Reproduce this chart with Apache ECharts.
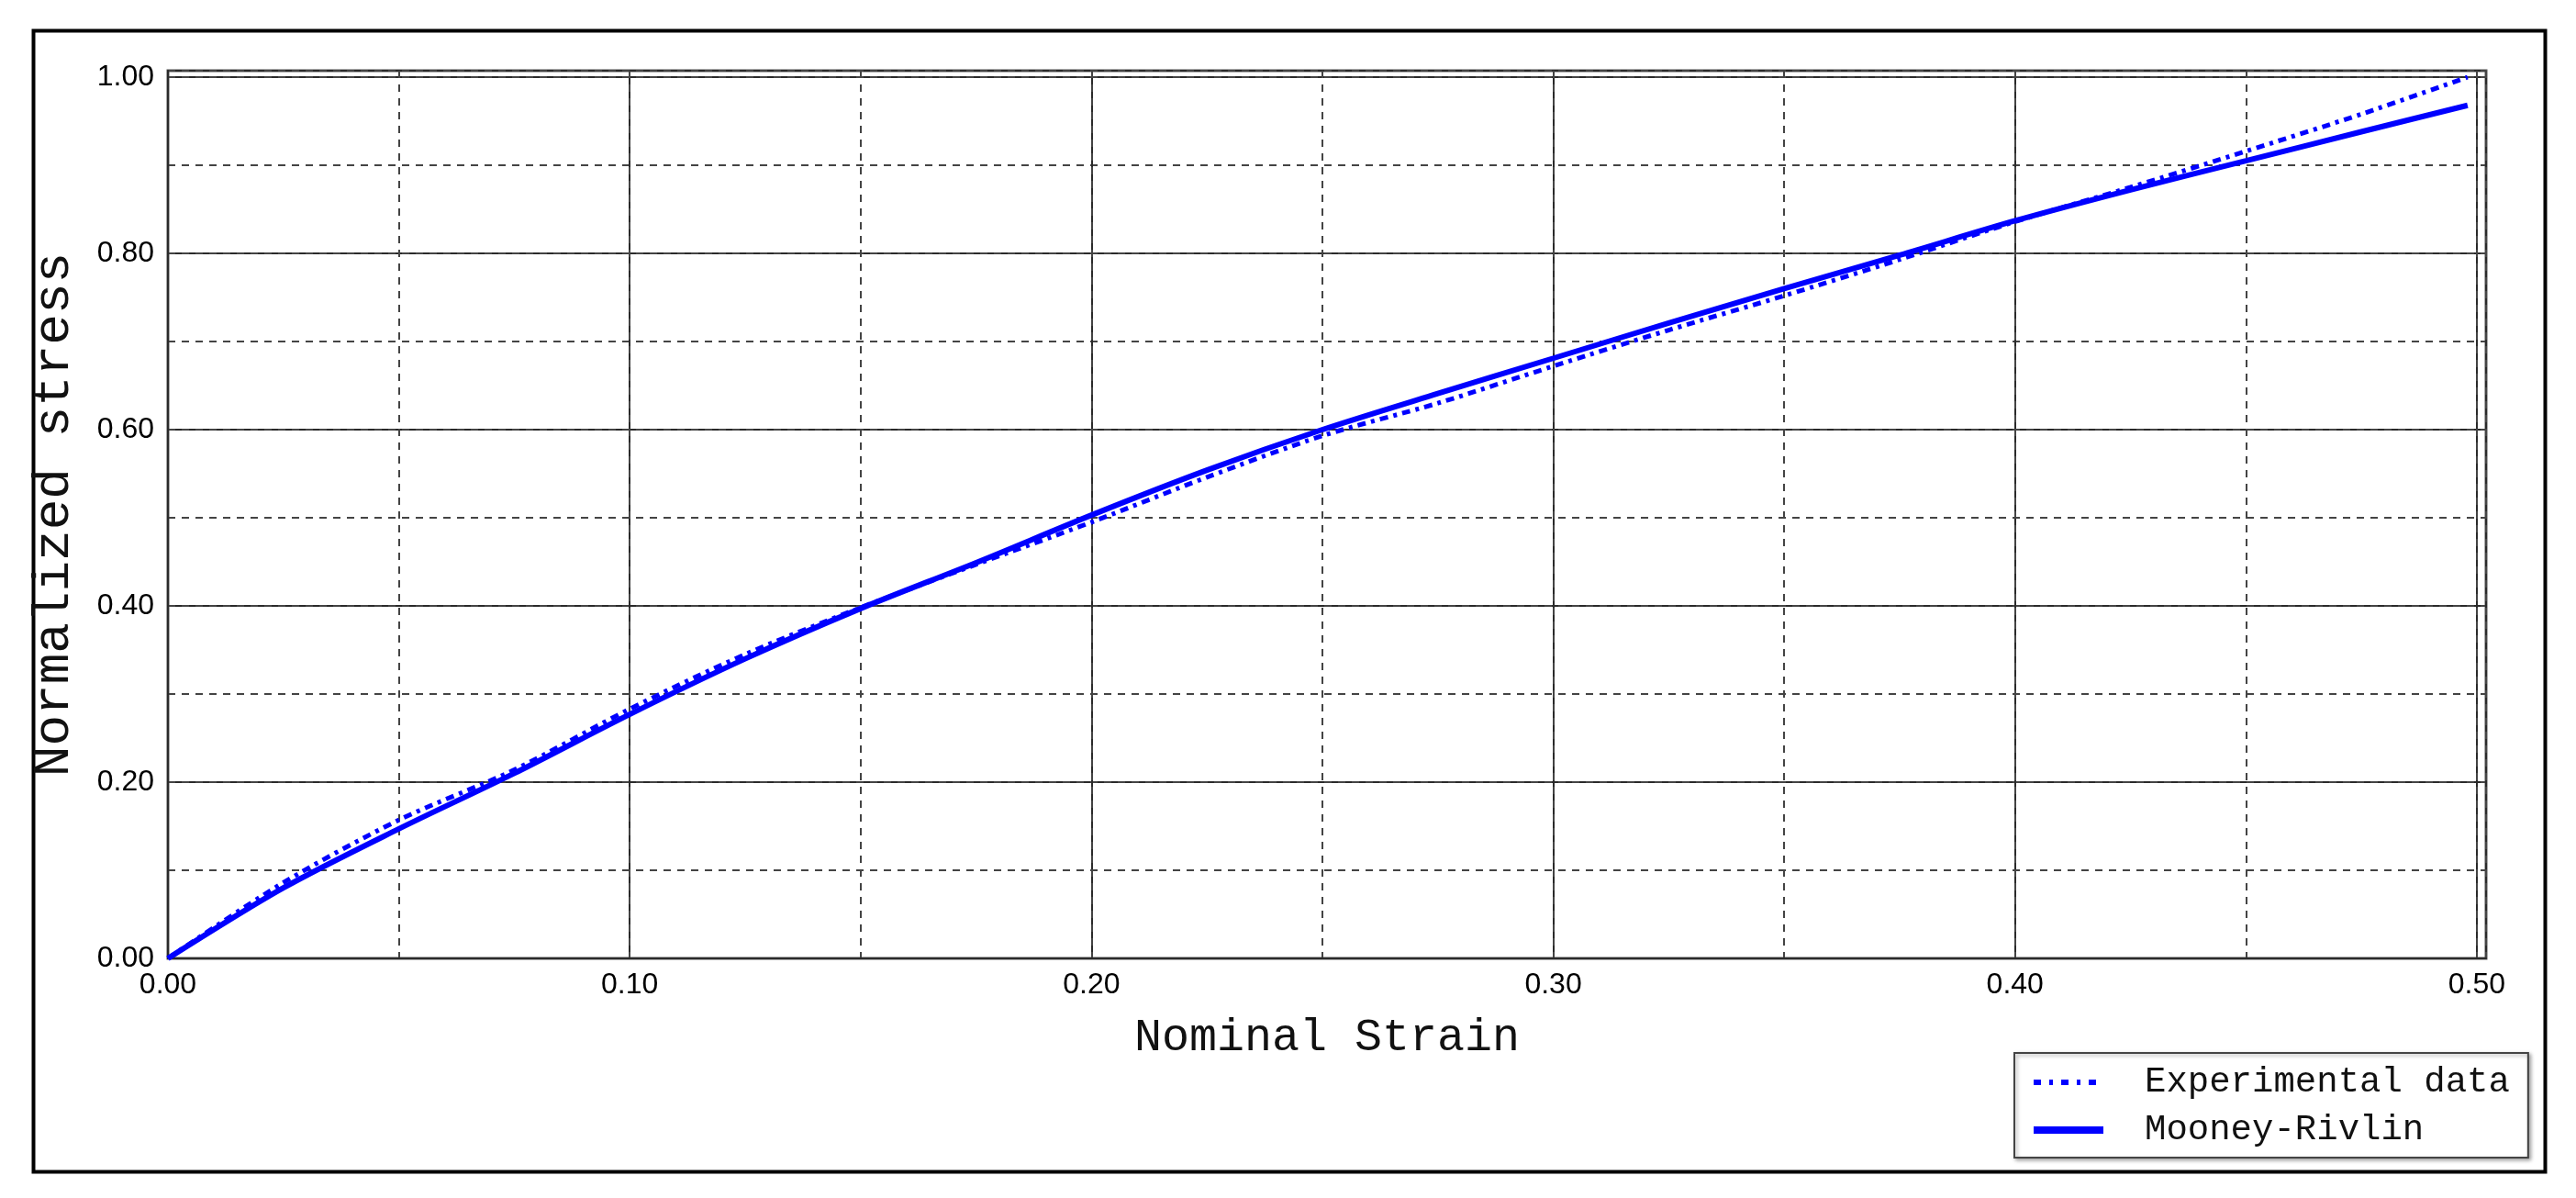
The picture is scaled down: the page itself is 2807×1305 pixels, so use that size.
<!DOCTYPE html>
<html>
<head>
<meta charset="utf-8">
<script src="https://cdn.jsdelivr.net/npm/echarts@6/dist/echarts.min.js"></script>
<style>
html,body{margin:0;padding:0;background:#fff;}
#chart{width:2807px;height:1305px;}
</style>
</head>
<body>
<div id="chart"></div>
<script>
// ---- data ----
const strain = [0, 0.025, 0.05, 0.075, 0.10, 0.125, 0.15, 0.175, 0.20, 0.225, 0.25, 0.275, 0.30, 0.325, 0.35, 0.375, 0.40, 0.425, 0.45, 0.475, 0.498];
const experimental = [0, 0.086, 0.157, 0.214, 0.283, 0.345, 0.398, 0.447, 0.495, 0.546, 0.593, 0.630, 0.672, 0.713, 0.752, 0.793, 0.836, 0.875, 0.916, 0.958, 1.000];
const mooneyRivlin = [0, 0.080, 0.147, 0.210, 0.277, 0.340, 0.397, 0.449, 0.503, 0.554, 0.600, 0.641, 0.681, 0.721, 0.760, 0.798, 0.837, 0.872, 0.905, 0.938, 0.968];
const xTickLabels = ['0.00', '0.10', '0.20', '0.30', '0.40', '0.50'];
const yTickLabels = ['0.00', '0.20', '0.40', '0.60', '0.80', '1.00'];
const seriesNames = ['Experimental data', 'Mooney-Rivlin'];

const pair = (xs, ys) => xs.map((x, i) => [x, ys[i]]);
const xLabel = v => { const i = Math.round(v / 0.1); return Math.abs(v - i * 0.1) < 1e-6 && i < xTickLabels.length ? xTickLabels[i] : ''; };
const yLabel = v => { const i = Math.round(v / 0.2); return Math.abs(v - i * 0.2) < 1e-6 && i < yTickLabels.length ? yTickLabels[i] : ''; };

const X_MAX = 0.502, Y_MAX = 1.0073;
const majorLine = { show: true, lineStyle: { color: '#2a2a2a', width: 2, type: 'solid' } };
const minorLine = { show: true, lineStyle: { color: '#444', width: 2, type: [8, 7] } };
const hidden = { show: false };

const chart = echarts.init(document.getElementById('chart'), null, { renderer: 'canvas' });
chart.setOption({
  backgroundColor: '#ffffff',
  animation: false,
  graphic: [{
    type: 'rect', left: 34, top: 31, z: -10, silent: true,
    shape: { width: 2737, height: 1243 },
    style: { fill: 'none', stroke: '#000', lineWidth: 4 }
  }],
  grid: { left: 183, top: 77, right: 98, bottom: 261, show: true, borderColor: '#555', borderWidth: 3, backgroundColor: 'transparent' },
  legend: {
    orient: 'vertical', left: 2195, top: 1147,
    data: [
      { name: seriesNames[0], lineStyle: { width: 6, type: [8, 9, 4, 9] } },
      { name: seriesNames[1], lineStyle: { width: 8 } }
    ],
    itemWidth: 76, itemHeight: 14, itemGap: 12,
    itemStyle: { opacity: 0 },
    padding: [12, 20, 10, 17],
    borderColor: '#444', borderWidth: 2, backgroundColor: '#fff',
    shadowColor: 'rgba(0,0,0,0.35)', shadowBlur: 4, shadowOffsetX: 2, shadowOffsetY: 2,
    textStyle: { fontFamily: 'Liberation Mono', fontSize: 39, color: '#111', lineHeight: 40, padding: [0, 0, 0, 40] }
  },
  xAxis: [{
    type: 'value', min: 0, max: X_MAX, interval: 0.1,
    name: 'Nominal Strain', nameLocation: 'middle', nameGap: 62,
    nameTextStyle: { fontFamily: 'Liberation Mono', fontSize: 50, color: '#111' },
    axisLine: { show: true, onZero: false, lineStyle: { color: '#2a2a2a', width: 2 } },
    axisTick: hidden,
    axisLabel: { formatter: xLabel, fontFamily: 'Liberation Sans', fontSize: 32, color: '#000', margin: 13 },
    splitLine: majorLine
  }, {
    type: 'value', min: 0, max: X_MAX, interval: 0.05, position: 'top',
    axisLine: hidden, axisTick: hidden, axisLabel: hidden,
    splitLine: minorLine
  }],
  yAxis: [{
    type: 'value', min: 0, max: Y_MAX, interval: 0.2,
    name: 'Normalized stress', nameLocation: 'middle', nameGap: 96, nameRotate: 90,
    nameTextStyle: { fontFamily: 'Liberation Mono', fontSize: 56, color: '#111' },
    axisLine: { show: true, onZero: false, lineStyle: { color: '#2a2a2a', width: 2 } },
    axisTick: hidden,
    axisLabel: { formatter: yLabel, fontFamily: 'Liberation Sans', fontSize: 32, color: '#000', margin: 15 },
    splitLine: majorLine
  }, {
    type: 'value', min: 0, max: Y_MAX, interval: 0.1, position: 'right',
    axisLine: hidden, axisTick: hidden, axisLabel: hidden,
    splitLine: minorLine
  }],
  series: [{
    name: seriesNames[0], type: 'line', xAxisIndex: 0, yAxisIndex: 0,
    data: pair(strain, experimental), symbol: 'none', smooth: 0.3, z: 4,
    lineStyle: { color: '#0000ff', width: 5, type: [9, 6, 4, 6] },
    itemStyle: { color: '#0000ff' }
  }, {
    name: seriesNames[1], type: 'line', xAxisIndex: 0, yAxisIndex: 0,
    data: pair(strain, mooneyRivlin), symbol: 'none', smooth: 0.3, z: 3,
    lineStyle: { color: '#0000ff', width: 6, type: 'solid' },
    itemStyle: { color: '#0000ff' }
  }]
});
</script>
</body>
</html>
